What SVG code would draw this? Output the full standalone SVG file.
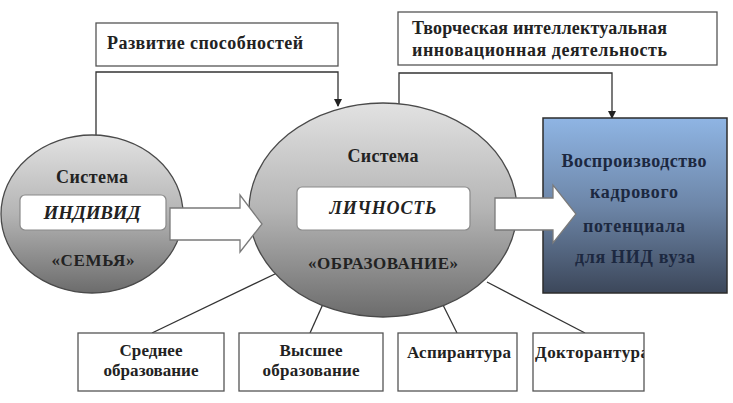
<svg xmlns="http://www.w3.org/2000/svg" width="733" height="403" viewBox="0 0 733 403">
<defs>
<linearGradient id="gEll" x1="0" y1="0" x2="0" y2="1">
<stop offset="0" stop-color="#e2e2e2"/>
<stop offset="0.5" stop-color="#b4b4b4"/>
<stop offset="1" stop-color="#6c6c6c"/>
</linearGradient>
<linearGradient id="gBlue" x1="0" y1="0" x2="0" y2="1">
<stop offset="0" stop-color="#8fb5e4"/>
<stop offset="0.5" stop-color="#6d86a8"/>
<stop offset="1" stop-color="#3c475a"/>
</linearGradient>
<marker id="ah" markerWidth="8" markerHeight="8" refX="7" refY="4" orient="auto" markerUnits="userSpaceOnUse">
<path d="M0,0 L8,4 L0,8 Z" fill="#222"/>
</marker>
<clipPath id="clip4"><rect x="533" y="333" width="111" height="58"/></clipPath>
</defs>
<style>
text{font-family:"Liberation Serif","Times New Roman",serif;font-weight:bold;fill:#222;}
.c{text-anchor:middle;}
.i{font-style:italic;}
.box{fill:#fff;stroke:#555;stroke-width:1.3;}
.ell{fill:url(#gEll);stroke:#4a4a4a;stroke-width:1.3;}
.inner{fill:#fff;stroke:#8a8a8a;stroke-width:1.2;}
.ln{fill:none;stroke:#333;stroke-width:1.3;}
.blk{fill:#fff;stroke:#7a7a7a;stroke-width:1.3;}
.bl{fill:#1c2840;}
</style>

<g id="connectors">
<path class="ln" d="M96,135 V72 H338 V106" marker-end="url(#ah)"/>
<path class="ln" d="M399,104 V73 H612 V118" marker-end="url(#ah)"/>
<line class="ln" x1="152" y1="333" x2="277" y2="273"/>
<line class="ln" x1="310" y1="333" x2="323" y2="304"/>
<line class="ln" x1="457" y1="333" x2="443" y2="305"/>
<line class="ln" x1="585" y1="333" x2="487" y2="282"/>
</g>

<g id="top-left-box">
<rect class="box" x="96" y="23" width="242" height="43"/>
<text x="107" y="49" font-size="18" textLength="196">Развитие способностей</text>
</g>

<g id="top-right-box">
<rect class="box" x="398" y="12" width="319" height="53"/>
<text x="412" y="34" font-size="18" textLength="255">Творческая интеллектуальная</text>
<text x="412" y="56" font-size="18" textLength="255">инновационная деятельность</text>
</g>

<g id="family">
<ellipse class="ell" cx="92" cy="214" rx="91" ry="79"/>
<text class="c" x="92" y="183" font-size="18" textLength="72">Система</text>
<rect class="inner" x="20" y="195" width="146" height="35" rx="5"/>
<text class="c i" x="92" y="219" font-size="19" textLength="97">ИНДИВИД</text>
<text class="c" x="93" y="266" font-size="17" textLength="83">«СЕМЬЯ»</text>
</g>

<g id="education">
<ellipse class="ell" cx="383" cy="210" rx="134" ry="107"/>
<text class="c" x="383" y="162" font-size="18" textLength="71">Система</text>
<rect class="inner" x="297" y="187" width="173" height="43" rx="5"/>
<text class="c i" x="383" y="214" font-size="18" textLength="107">ЛИЧНОСТЬ</text>
<text class="c" x="383" y="269" font-size="17" textLength="150">«ОБРАЗОВАНИЕ»</text>
</g>

<g id="reproduction">
<rect x="543" y="118" width="184" height="175" fill="url(#gBlue)" stroke="#2c2c2c" stroke-width="1.5"/>
<text class="c bl" x="634" y="167" font-size="18" textLength="145">Воспроизводство</text>
<text class="c bl" x="634" y="198" font-size="18" textLength="88">кадрового</text>
<text class="c bl" x="634" y="232" font-size="18" textLength="102">потенциала</text>
<text class="c bl" x="635" y="263" font-size="18" textLength="120">для НИД вуза</text>
</g>

<g id="arrows">
<path class="blk" d="M170,208 H240 V195 L262,224 L240,252 V240 H170 Z"/>
<path class="blk" d="M495,198 H553 V185 L576,214 L553,243 V230 H495 Z"/>
</g>

<g id="secondary">
<rect class="box" x="78" y="333" width="146" height="58"/>
<text class="c" x="151" y="356" font-size="17" textLength="63">Среднее</text>
<text class="c" x="151" y="376" font-size="17" textLength="95">образование</text>
</g>

<g id="higher">
<rect class="box" x="239" y="333" width="144" height="58"/>
<text class="c" x="311" y="356" font-size="17" textLength="63">Высшее</text>
<text class="c" x="311" y="376" font-size="17" textLength="97">образование</text>
</g>

<g id="postgrad">
<rect class="box" x="398" y="333" width="119" height="58"/>
<text x="407" y="358" font-size="17" textLength="104">Аспирантура</text>
</g>

<g id="doctoral">
<rect class="box" x="533" y="333" width="111" height="58"/>
<text x="535" y="358" font-size="17" textLength="114" clip-path="url(#clip4)">Докторантура</text>
</g>
</svg>
